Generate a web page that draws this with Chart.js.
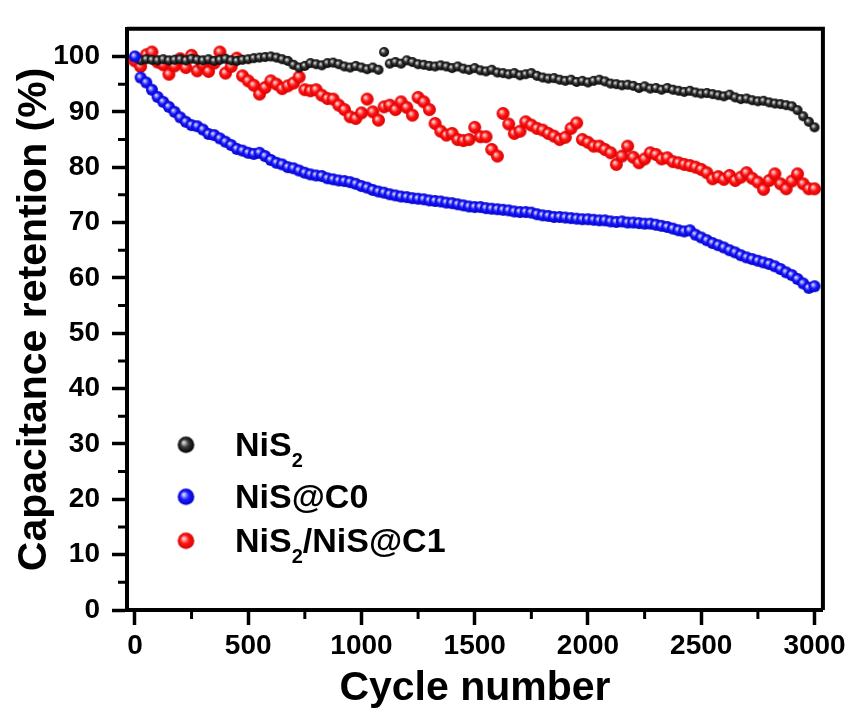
<!DOCTYPE html>
<html>
<head>
<meta charset="utf-8">
<script src="https://cdn.jsdelivr.net/npm/chart.js@4/dist/chart.umd.min.js"></script>
<style>
  html, body { margin: 0; padding: 0; background: #fff; }
  canvas { display: block; }
</style>
</head>
<body>
<canvas id="cyc" width="850" height="715"></canvas>
<script>
// Cycling stability: capacitance retention vs cycle number for three electrodes
const cycles = [
  0, 25, 50, 75, 100, 125, 150, 175, 200, 225,
  250, 275, 300, 325, 350, 375, 400, 425, 450, 475,
  500, 525, 550, 575, 600, 625, 650, 675, 700, 725,
  750, 775, 800, 825, 850, 875, 900, 925, 950, 975,
  1000, 1025, 1050, 1075, 1100, 1125, 1150, 1175, 1200, 1225,
  1250, 1275, 1300, 1325, 1350, 1375, 1400, 1425, 1450, 1475,
  1500, 1525, 1550, 1575, 1600, 1625, 1650, 1675, 1700, 1725,
  1750, 1775, 1800, 1825, 1850, 1875, 1900, 1925, 1950, 1975,
  2000, 2025, 2050, 2075, 2100, 2125, 2150, 2175, 2200, 2225,
  2250, 2275, 2300, 2325, 2350, 2375, 2400, 2425, 2450, 2475,
  2500, 2525, 2550, 2575, 2600, 2625, 2650, 2675, 2700, 2725,
  2750, 2775, 2800, 2825, 2850, 2875, 2900, 2925, 2950, 2975,
  3000
];

// NiS2 (black)
const nis2 = [
  100.0, 99.3, 99.5, 99.4, 99.3, 99.5, 99.3, 99.4, 99.5, 99.3,
  99.6, 99.4, 99.3, 99.5, 99.2, 99.4, 99.6, 99.3, 99.2, 99.4,
  99.5, 99.7, 99.8, 99.9, 100.0, 99.8, 99.5, 99.2, 98.5, 98.0,
  98.3, 98.8, 98.6, 98.4, 98.8, 98.9, 98.6, 98.2, 98.0, 98.3,
  98.0, 97.7, 98.0, 97.6, 100.8, 98.7, 99.0, 98.7, 99.3, 99.0,
  98.6, 98.5, 98.3, 98.2, 98.4, 98.2, 97.9, 98.2, 97.8, 97.6,
  97.9, 97.5, 97.3, 97.6, 97.1, 97.0, 96.8, 97.0, 96.6, 96.8,
  97.0, 96.5, 96.2, 96.0, 96.1, 95.8, 95.6, 95.8, 95.4, 95.6,
  95.3, 95.6, 95.8, 95.5, 95.1, 95.0, 94.8, 94.9, 94.7, 94.3,
  94.6, 94.2, 94.3, 94.0, 94.3, 94.0, 93.8, 93.6, 93.8, 93.5,
  93.3, 93.4, 93.2, 93.0, 92.8, 93.1, 92.6, 92.3, 92.4, 92.1,
  91.9, 92.0, 91.7, 91.5, 91.4, 91.2, 91.0, 90.3, 89.2, 88.2,
  87.2
];

// NiS@C0 (blue)
const nisC0 = [
  100.0, 96.2, 95.3, 94.0, 92.7, 91.8, 90.9, 90.0, 89.0, 88.2,
  87.6, 87.4, 86.8, 86.0, 85.8, 85.2, 84.6, 84.0, 83.3, 83.0,
  82.6, 82.4, 82.6, 82.0, 81.3, 80.8, 80.5, 80.0, 79.8, 79.4,
  79.0, 78.7, 78.5, 78.4, 78.0, 77.8, 77.6, 77.5, 77.3, 77.0,
  76.6, 76.3, 75.9, 75.6, 75.4, 75.1, 74.9, 74.7, 74.6, 74.4,
  74.3, 74.2, 74.0, 73.9, 73.8, 73.6, 73.5, 73.3, 73.1, 72.9,
  72.8, 72.8, 72.6, 72.5, 72.4, 72.3, 72.2, 72.0, 71.9, 71.9,
  71.8, 71.5, 71.3, 71.2, 71.0, 71.0, 70.9, 70.8, 70.7, 70.6,
  70.6, 70.5, 70.4, 70.4, 70.2, 70.1, 70.2, 70.0, 70.0, 69.9,
  69.8, 69.8, 69.6, 69.4, 69.2, 68.9, 68.6, 68.4, 68.6, 67.8,
  67.3, 66.8, 66.3, 65.9, 65.5, 65.0, 64.6, 64.1, 63.7, 63.4,
  63.1, 62.8, 62.5, 62.1, 61.6, 61.0, 60.5, 59.8, 59.0, 58.2,
  58.5
];

// NiS2/NiS@C1 (red)
const nisC1 = [
  99.2, 98.2, 100.3, 100.8, 99.0, 98.5, 96.8, 98.3, 99.6, 98.0,
  100.2, 97.4, 98.5, 97.3, 98.8, 100.8, 97.0, 98.2, 99.7, 96.5,
  95.6, 94.8, 93.2, 94.4, 95.6, 95.0, 94.2, 94.7, 95.2, 96.3,
  94.0, 93.8, 94.0, 93.0, 92.4, 92.3, 91.2, 90.4, 89.1, 88.8,
  89.8, 92.3, 90.0, 88.5, 90.9, 91.2, 90.4, 91.8, 90.8, 89.4,
  92.6, 91.8, 90.4, 87.9, 86.5, 85.8, 86.1, 85.0, 84.8, 85.0,
  87.2, 85.5, 85.5, 83.2, 82.0, 89.7, 87.8, 86.1, 86.5, 88.2,
  87.6, 87.0, 86.7, 86.1, 85.6, 85.0, 85.4, 87.0, 88.0, 85.0,
  84.5, 83.8, 83.8, 83.2, 82.6, 80.5, 82.0, 83.8, 81.8, 80.8,
  81.5, 82.6, 82.3, 81.5, 81.7, 81.0, 80.8, 80.5, 80.3, 80.0,
  79.6, 79.0, 77.9, 78.3, 77.8, 78.5, 77.6, 78.2, 79.0, 78.0,
  77.3, 76.0, 77.6, 78.8, 77.0, 76.1, 77.5, 78.8, 77.0, 76.1,
  76.1
];

const xTickValues = [0, 500, 1000, 1500, 2000, 2500, 3000];
const xMinorValues = [250, 750, 1250, 1750, 2250, 2750];
const yTickValues = [0, 10, 20, 30, 40, 50, 60, 70, 80, 90, 100];
const yMinorValues = [5, 15, 25, 35, 45, 55, 65, 75, 85, 95];
const FONT = "'Liberation Sans', Arial, sans-serif";

// shaded ball marker, like the Origin "sphere" symbol
function sphere(r, hi, mid, edge, midStop) {
  const s = Math.ceil(r * 2) + 2;
  const c = document.createElement('canvas');
  c.width = c.height = s;
  const g = c.getContext('2d');
  const o = s / 2;
  const grad = g.createRadialGradient(o - r * 0.3, o - r * 0.3, r * 0.05, o, o, r);
  grad.addColorStop(0, hi);
  grad.addColorStop(midStop, mid);
  grad.addColorStop(1, edge);
  g.fillStyle = grad;
  g.beginPath();
  g.arc(o, o, r, 0, Math.PI * 2);
  g.fill();
  return c;
}

const SERIES = [
  { label: ['NiS', '2', ''], values: nis2, order: 1,
    ball: r => sphere(r, '#e6e6e6', '#3a3a3a', '#000000', 0.45), r: 5 },
  { label: ['NiS@C0', '', ''], values: nisC0, order: 0,
    ball: r => sphere(r, '#e4e4ff', '#1a1aff', '#0000c8', 0.5), r: 6 },
  { label: ['NiS', '2', '/NiS@C1'], values: nisC1, order: 2,
    ball: r => sphere(r, '#ffe0e0', '#ff1414', '#d80000', 0.5), r: 6.5 }
];

// frame on top/right, drawn under the points
const framePlugin = {
  id: 'frame',
  beforeDatasetsDraw(chart) {
    const { ctx, chartArea: a } = chart;
    ctx.save();
    ctx.strokeStyle = '#000';
    ctx.lineWidth = 4;
    ctx.beginPath();
    ctx.moveTo(a.left, a.top);
    ctx.lineTo(a.right, a.top);
    ctx.lineTo(a.right, a.bottom);
    ctx.stroke();
    ctx.restore();
  }
};

// minor ticks halfway between labelled ticks
const minorTicks = {
  id: 'minorTicks',
  afterDraw(chart) {
    const { ctx, chartArea: a, scales: { x, y } } = chart;
    ctx.save();
    ctx.strokeStyle = '#000';
    ctx.lineWidth = 3;
    ctx.beginPath();
    xMinorValues.forEach(v => {
      const px = x.getPixelForValue(v);
      ctx.moveTo(px, a.bottom);
      ctx.lineTo(px, a.bottom + 9);
    });
    yMinorValues.forEach(v => {
      const py = y.getPixelForValue(v);
      ctx.moveTo(a.left, py);
      ctx.lineTo(a.left - 9, py);
    });
    ctx.stroke();
    ctx.restore();
  }
};

// legend inside the plot with subscripts
const subLegend = {
  id: 'subLegend',
  afterDatasetsDraw(chart) {
    const { ctx, chartArea: a } = chart;
    const rowsY = [a.top + 416, a.top + 468, a.top + 512];
    ctx.save();
    ctx.fillStyle = '#000';
    ctx.textBaseline = 'alphabetic';
    SERIES.forEach((s, i) => {
      const img = s.ball(8.3);
      const cy = rowsY[i];
      ctx.drawImage(img, a.left + 59 - img.width / 2, cy - img.height / 2);
      let tx = a.left + 108;
      const base = cy + 11.5;
      ctx.font = `bold 34px ${FONT}`;
      ctx.fillText(s.label[0], tx, base);
      tx += ctx.measureText(s.label[0]).width;
      if (s.label[1]) {
        ctx.font = `bold 20px ${FONT}`;
        ctx.fillText(s.label[1], tx, base + 11);
        tx += ctx.measureText(s.label[1]).width;
      }
      if (s.label[2]) {
        ctx.font = `bold 34px ${FONT}`;
        ctx.fillText(s.label[2], tx, base);
      }
    });
    ctx.restore();
  }
};

const tickFont = { family: FONT, size: 28, weight: 'bold' };
const titleFont = { family: FONT, size: 41, weight: 'bold' };
const tickGrid = { drawOnChartArea: false, drawTicks: true, tickLength: 15, tickWidth: 3.5, tickColor: '#000' };

new Chart(document.getElementById('cyc'), {
  type: 'scatter',
  data: {
    datasets: SERIES.map(s => ({
      data: cycles.map((c, i) => ({ x: c, y: s.values[i] })),
      pointStyle: s.ball(s.r),
      pointRadius: s.r,
      order: s.order,
      showLine: false,
      clip: false
    }))
  },
  options: {
    responsive: false,
    animation: false,
    devicePixelRatio: 1,
    layout: { padding: { top: 16, right: 27, left: 0, bottom: 0 } },
    plugins: { legend: { display: false }, tooltip: { enabled: false } },
    scales: {
      x: {
        type: 'linear',
        min: -35,
        max: 3037,
        afterFit(scale) { scale.height = 105; },
        afterBuildTicks(scale) { scale.ticks = xTickValues.map(v => ({ value: v })); },
        ticks: { maxRotation: 0, color: '#000', font: tickFont, padding: 4, callback: v => String(v) },
        grid: tickGrid,
        border: { display: true, color: '#000', width: 4 },
        title: { display: true, text: 'Cycle number', color: '#000', font: titleFont, padding: { top: 0, bottom: 2 } }
      },
      y: {
        min: 0,
        max: 105,
        afterFit(scale) { scale.width = 127; },
        afterBuildTicks(scale) { scale.ticks = yTickValues.map(v => ({ value: v })); },
        ticks: { color: '#000', font: tickFont, padding: 12, callback: v => String(v) },
        grid: tickGrid,
        border: { display: true, color: '#000', width: 4 },
        title: { display: true, text: 'Capacitance retention (%)', color: '#000', font: titleFont, padding: { top: 10, bottom: 0 } }
      }
    }
  },
  plugins: [framePlugin, minorTicks, subLegend]
});
</script>
</body>
</html>
